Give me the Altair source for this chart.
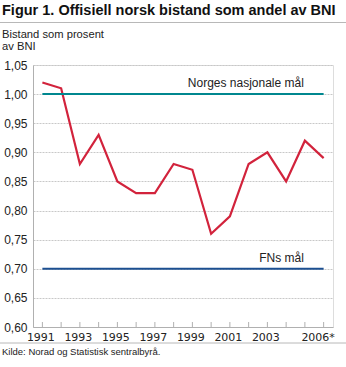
import altair as alt
import pandas as pd

years = ["1991", "1992", "1993", "1994", "1995", "1996", "1997", "1998",
         "1999", "2000", "2001", "2002", "2003", "2004", "2005", "2006"]
values = [1.02, 1.01, 0.88, 0.93, 0.85, 0.83, 0.83, 0.88,
          0.87, 0.76, 0.79, 0.88, 0.90, 0.85, 0.92, 0.89]
tick_labels = ["1991", "1993", "1995", "1997", "1999", "2001", "2003", "2006"]
y_ticks = [0.60, 0.65, 0.70, 0.75, 0.80, 0.85, 0.90, 0.95, 1.00, 1.05]

target_names = ["Norges nasjonale mål", "FNs mål"]
target_values = [1.00, 0.70]
target_colors = ["#00878f", "#1c4f91"]

title_text = "Figur 1. Offisiell norsk bistand som andel av BNI"
ytitle_lines = ["Bistand som prosent", "av BNI"]
source_text = "Kilde: Norad og Statistisk sentralbyrå."

W, H = 300, 262

df = pd.DataFrame({"year": years, "value": values})
rows = []
for n, v in zip(target_names, target_values):
    rows.append({"name": n, "year": years[0], "value": v})
    rows.append({"name": n, "year": years[-1], "value": v})
df_t = pd.DataFrame(rows)
df_lab = pd.DataFrame({"name": target_names, "value": target_values, "year": ["2005", "2005"]})

label_list = "[" + ",".join("'" + t + "'" for t in tick_labels) + "]"
x_scale = alt.Scale(type="point", padding=0.5)
y_scale = alt.Scale(domain=[0.60, 1.05], nice=False, zero=False)
color_scale = alt.Scale(domain=target_names, range=target_colors)

x_axis = alt.Axis(
    title=None, labelAngle=0, ticks=False, grid=False,
    domainColor="#b0b0b0", domainWidth=1,
    labelFont="DejaVu Sans", labelFontSize=11, labelColor="#222",
    labelPadding=4,
    labelExpr=f"indexof({label_list}, datum.value) >= 0 ? (datum.value == '2006' ? '2006*' : datum.value) : ''",
    labelOffset={"condition": {"test": "datum.value == '2006'", "value": -6}, "value": -2},
)
y_axis = alt.Axis(
    title=None, values=y_ticks, ticks=False, labelOverlap=False,
    domainColor="#b0b0b0", domainWidth=1,
    gridColor="#c8c8c8", gridDash=[2, 1], gridWidth=1,
    labelFont="Liberation Sans", labelFontSize=12, labelColor="#222",
    labelPadding=6,
    labelExpr="replace(format(datum.value, '.2f'), '.', ',')",
)

base_x = alt.X("year:O", scale=x_scale, axis=x_axis)
base_y = alt.Y("value:Q", scale=y_scale, axis=y_axis)

line = alt.Chart(df).mark_line(color="#d2233c", strokeWidth=2.2).encode(
    x=base_x,
    y=base_y,
)

tick_marks = alt.Chart(df).mark_rule(color="#b0b0b0", strokeWidth=1).encode(
    x=base_x,
    y=alt.value(H),
    y2=alt.value(H - 5),
)

targets = alt.Chart(df_t).mark_line(strokeWidth=2).encode(
    x=base_x,
    y=base_y,
    color=alt.Color("name:N", scale=color_scale, legend=None),
    detail="name:N",
)

target_labels = alt.Chart(df_lab).mark_text(
    align="right", baseline="bottom", dx=-1, dy=-4,
    font="Liberation Sans", fontSize=12, color="#222",
).encode(
    x=base_x,
    y=base_y,
    text="name:N",
)

one = alt.Data(values=[{}])

title = alt.Chart(one).mark_text(
    text=title_text, align="left", baseline="alphabetic",
    font="Liberation Sans", fontSize=14.5, fontWeight="bold", color="#111",
).encode(x=alt.value(-31), y=alt.value(-50))

title_rule = alt.Chart(one).mark_rule(color="#b8b8b8", strokeWidth=1).encode(
    x=alt.value(-33), x2=alt.value(W + 13), y=alt.value(-42.5)
)

ytitle1 = alt.Chart(one).mark_text(
    text=ytitle_lines[0], align="left", baseline="alphabetic",
    font="Liberation Sans", fontSize=11.2, color="#222",
).encode(x=alt.value(-31), y=alt.value(-27.5))

ytitle2 = alt.Chart(one).mark_text(
    text=ytitle_lines[1], align="left", baseline="alphabetic",
    font="Liberation Sans", fontSize=11.2, color="#222",
).encode(x=alt.value(-31), y=alt.value(-15))

src_rule = alt.Chart(one).mark_rule(color="#b8b8b8", strokeWidth=1).encode(
    x=alt.value(-33), x2=alt.value(W + 13), y=alt.value(H + 16)
)

source = alt.Chart(one).mark_text(
    text=source_text, align="left", baseline="alphabetic",
    font="Liberation Sans", fontSize=9.5, color="#222",
).encode(x=alt.value(-31), y=alt.value(H + 28))

chart = alt.layer(
    line, tick_marks, targets, target_labels, title, title_rule,
    ytitle1, ytitle2, src_rule, source
).resolve_scale(color="independent").properties(
    width=W, height=H,
    autosize=alt.AutoSizeParams(type="none"),
    padding={"left": 33, "top": 65, "right": 13, "bottom": 40},
).configure_view(stroke=None).configure(background="white")

chart.save("out.html", embed_options={"renderer": "svg", "actions": False})
